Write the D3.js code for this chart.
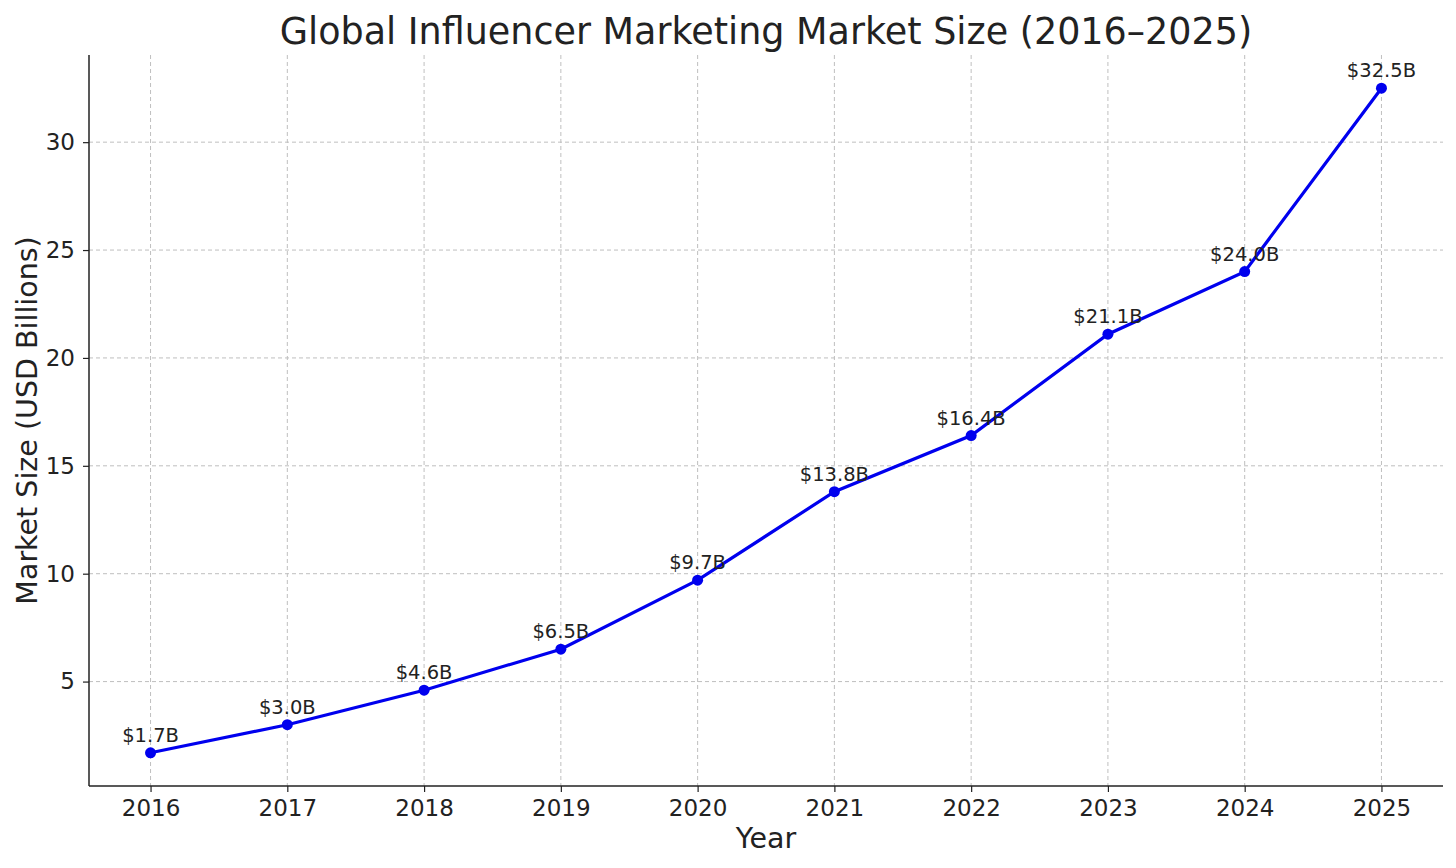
<!DOCTYPE html>
<html><head><meta charset="utf-8">
<script src="https://cdn.jsdelivr.net/npm/d3@7"></script>
<style>body{margin:0;background:#fff}text{font-family:"DejaVu Sans",sans-serif;fill:#222}</style>
</head><body>
<svg id="c" width="1456" height="868"></svg>
<script>
const years = [2016,2017,2018,2019,2020,2021,2022,2023,2024,2025];
const values = [1.7,3.0,4.6,6.5,9.7,13.8,16.4,21.1,24.0,32.5];
const labels = ["$1.7B","$3.0B","$4.6B","$6.5B","$9.7B","$13.8B","$16.4B","$21.1B","$24.0B","$32.5B"];
const yTicks = [5,10,15,20,25,30];

const svg = d3.select("#c");
const L=89,R=1443,T=55,B=786;
const x = d3.scaleLinear().domain([2015.55,2025.45]).range([L,R]);
const y = d3.scaleLinear().domain([0.16,34.04]).range([B,T]);

const grid = svg.append("g").attr("stroke","#b0b0b0").attr("stroke-width",1).attr("stroke-dasharray","4,3").attr("opacity",0.8);
years.forEach(v=>grid.append("line").attr("x1",x(v)).attr("x2",x(v)).attr("y1",T).attr("y2",B));
yTicks.forEach(v=>grid.append("line").attr("x1",L).attr("x2",R).attr("y1",y(v)).attr("y2",y(v)));

const xa = svg.append("g").attr("transform",`translate(0,${B})`).call(d3.axisBottom(x).tickValues(years).tickFormat(d3.format("d")).tickSize(6).tickPadding(8));
const ya = svg.append("g").attr("transform",`translate(${L},0)`).call(d3.axisLeft(y).tickValues(yTicks).tickSize(6).tickPadding(8));
[xa,ya].forEach(a=>{a.selectAll("text").attr("font-size",23).style("fill","#222");a.select(".domain").remove();a.selectAll("line").attr("stroke","#222").attr("stroke-width",1.2);});
svg.append("line").attr("x1",L).attr("x2",L).attr("y1",T).attr("y2",B).attr("stroke","#222").attr("stroke-width",1.5);
svg.append("line").attr("x1",L).attr("x2",R).attr("y1",B).attr("y2",B).attr("stroke","#222").attr("stroke-width",1.5);

svg.append("path").datum(years.map((d,i)=>[d,values[i]]))
  .attr("d",d3.line().x(d=>x(d[0])).y(d=>y(d[1])))
  .attr("fill","none").attr("stroke","#0000ee").attr("stroke-width",3.2);
svg.selectAll("circle.p").data(values).enter().append("circle")
  .attr("cx",(d,i)=>x(years[i])).attr("cy",d=>y(d)).attr("r",5.5).attr("fill","#0000ee");
svg.selectAll("text.l").data(values).enter().append("text")
  .attr("x",(d,i)=>x(years[i])).attr("y",d=>y(d)-11).attr("text-anchor","middle").attr("font-size",19.5)
  .text((d,i)=>labels[i]);

svg.append("text").attr("x",(L+R)/2).attr("y",44).attr("text-anchor","middle").attr("font-size",36.5).text("Global Influencer Marketing Market Size (2016–2025)");
svg.append("text").attr("x",(L+R)/2).attr("y",848).attr("text-anchor","middle").attr("font-size",28.5).text("Year");
svg.append("text").attr("transform",`translate(37,${(T+B)/2}) rotate(-90)`).attr("text-anchor","middle").attr("font-size",28.5).text("Market Size (USD Billions)");
</script>
</body></html>
